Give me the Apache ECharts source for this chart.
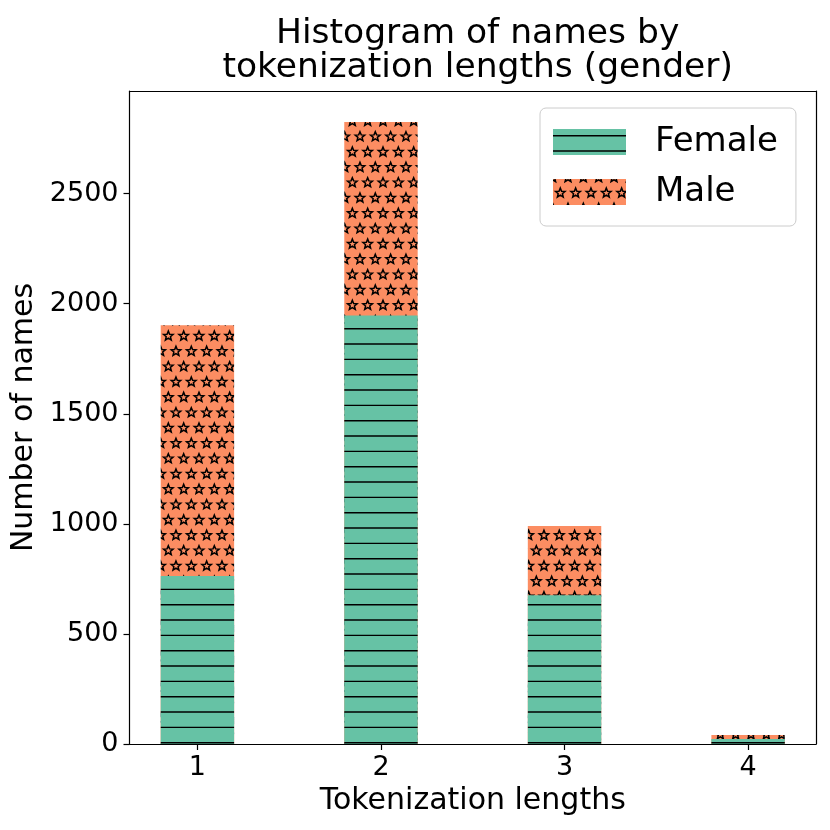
<!DOCTYPE html>
<html>
<head>
<meta charset="utf-8">
<script src="https://cdn.jsdelivr.net/npm/echarts@6/dist/echarts.min.js"></script>
<style>html,body{margin:0;padding:0;background:#fff}#c{width:830px;height:830px}</style>
</head>
<body>
<div id="c"></div>
<script>
// ---- data ----
const categories = [1, 2, 3, 4];
const femaleValues = [763, 1947, 676, 23];
const maleValues = [1139, 878, 314, 18];
const yTicks = [0, 500, 1000, 1500, 2000, 2500];
const seriesNames = ['Female', 'Male'];

// ---- patterns (hatches anchored to canvas origin) ----
function hatchLines() {
  const c = document.createElement('canvas');
  c.width = 46; c.height = 46;
  const g = c.getContext('2d');
  g.fillStyle = '#66c2a5';
  g.fillRect(0, 0, 46, 46);
  g.strokeStyle = '#000';
  g.lineWidth = 1.4;
  const step = 46 / 3;
  for (let k = -1; k <= 3; k++) {
    const y = 6.7 + k * step;
    g.beginPath(); g.moveTo(0, y); g.lineTo(46, y); g.stroke();
  }
  return c;
}
function starPath(g, cx, cy, R, r) {
  g.beginPath();
  for (let i = 0; i < 10; i++) {
    const a = -Math.PI / 2 + i * Math.PI / 5;
    const rad = i % 2 === 0 ? R : r;
    const x = cx + rad * Math.cos(a), y = cy + rad * Math.sin(a);
    if (i === 0) g.moveTo(x, y); else g.lineTo(x, y);
  }
  g.closePath();
}
function hatchStars() {
  const W = 46, H = 92;
  const c = document.createElement('canvas');
  c.width = W; c.height = H;
  const g = c.getContext('2d');
  g.fillStyle = '#fc8d62';
  g.fillRect(0, 0, W, H);
  g.strokeStyle = '#000';
  g.lineWidth = 1.5;
  g.lineJoin = 'miter';
  const s = 46 / 3;
  const rowsA = [29.33, 60, 90.67], rowsB = [14, 44.67, 75.33];
  const colsA = [15, 15 + s, 15 + 2 * s], colsB = [7.3, 7.3 + s, 7.3 + 2 * s];
  const pts = [];
  rowsA.forEach(y => colsA.forEach(x => pts.push([x, y])));
  rowsB.forEach(y => colsB.forEach(x => pts.push([x, y])));
  pts.forEach(([x, y]) => {
    for (let dx = -W; dx <= W; dx += W)
      for (let dy = -H; dy <= H; dy += H) {
        starPath(g, x + dx, y + dy, 5.0, 2.2);
        g.stroke();
      }
  });
  return c;
}

const femaleFill = { image: hatchLines(), repeat: 'repeat' };
const maleFill = { image: hatchStars(), repeat: 'repeat' };

// stacked tops (male sits on top of female)
const totals = categories.map((_, i) => femaleValues[i] + maleValues[i]);
const yMax = Math.max(...totals) * 1.05;
const xMin = 0.63, xMax = 4.37;

const font = 'DejaVu Sans';
const frameLine = { show: true, onZero: false, lineStyle: { color: '#000', width: 1.2 } };
const chart = echarts.init(document.getElementById('c'), null, { renderer: 'canvas' });
chart.setOption({
  animation: false,
  backgroundColor: '#fff',
  textStyle: { fontFamily: font, color: '#000' },
  title: {
    text: 'Histogram of names by\ntokenization lengths (gender)',
    left: 472.7, top: 12, textAlign: 'center',
    textStyle: { fontFamily: font, fontSize: 34.5, fontWeight: 'normal', color: '#000', lineHeight: 34 }
  },
  legend: {
    orient: 'vertical',
    left: 540, top: 108,
    itemWidth: 73, itemHeight: 26, itemGap: 16,
    padding: [17, 18, 17, 13],
    backgroundColor: 'rgba(255,255,255,0.8)',
    borderColor: '#cccccc', borderWidth: 1, borderRadius: 6,
    icon: 'rect',
    data: seriesNames,
    textStyle: { fontFamily: font, fontSize: 34, color: '#000', lineHeight: 26, padding: [0, 0, 0, 24] }
  },
  grid: {
    left: 129.5, right: 14, top: 91, bottom: 86,
    outerBoundsMode: 'none', containLabel: false, show: false
  },
  xAxis: [{
    type: 'value', min: xMin, max: xMax,
    name: 'Tokenization lengths', nameLocation: 'middle', nameGap: 40,
    nameTextStyle: { fontFamily: font, fontSize: 30, color: '#000' },
    axisLine: frameLine,
    axisTick: { show: true, length: 6, inside: false, customValues: categories, lineStyle: { color: '#000', width: 1.2 } },
    axisLabel: { customValues: categories, fontSize: 27, color: '#000', fontFamily: font, margin: 10, formatter: v => String(v) },
    splitLine: { show: false }
  }, {
    type: 'value', min: xMin, max: xMax, position: 'top',
    axisLine: frameLine, axisTick: { show: false }, axisLabel: { show: false }, splitLine: { show: false }
  }],
  yAxis: [{
    type: 'value', min: 0, max: yMax,
    name: 'Number of names', nameLocation: 'middle', nameGap: 70, nameRotate: 90,
    nameTextStyle: { fontFamily: font, fontSize: 30, color: '#000' },
    axisLine: frameLine,
    axisTick: { show: true, length: 6, inside: false, customValues: yTicks, lineStyle: { color: '#000', width: 1.2 } },
    axisLabel: { customValues: yTicks, fontSize: 27, color: '#000', fontFamily: font, margin: 11, formatter: v => String(Math.round(v)) },
    splitLine: { show: false }
  }, {
    type: 'value', min: 0, max: yMax, position: 'right',
    axisLine: frameLine, axisTick: { show: false }, axisLabel: { show: false }, splitLine: { show: false }
  }],
  series: [
    {
      name: seriesNames[1], type: 'bar', barWidth: 73.4, barGap: '-100%', z: 2,
      itemStyle: { color: maleFill },
      data: categories.map((c, i) => [c, totals[i]])
    },
    {
      name: seriesNames[0], type: 'bar', barWidth: 73.4, barGap: '-100%', z: 3,
      itemStyle: { color: femaleFill },
      data: categories.map((c, i) => [c, femaleValues[i]])
    }
  ]
});
</script>
</body>
</html>
